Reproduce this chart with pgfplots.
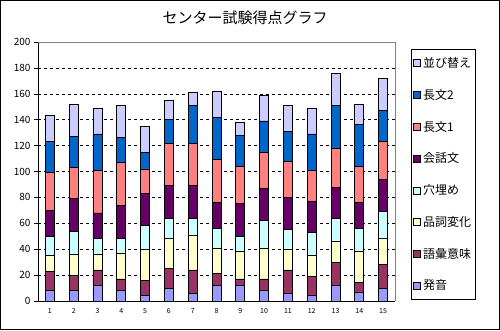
\documentclass[border=0pt]{standalone}
\usepackage{pgfplots}
\usepackage{pgfplotstable}
\pgfplotsset{compat=1.18}
\usepackage{fontspec}
\setmainfont{Noto Sans CJK JP}
\definecolor{hatsuon}{HTML}{9999FF}
\definecolor{goi}{HTML}{993366}
\definecolor{hinshi}{HTML}{FFFFCC}
\definecolor{anaume}{HTML}{CCFFFF}
\definecolor{kaiwa}{HTML}{660066}
\definecolor{chou1}{HTML}{FF8080}
\definecolor{chou2}{HTML}{0066CC}
\definecolor{narabi}{HTML}{CCCCFF}
\pgfplotstableread{
x  a  b  c  d  e  f  g  h
1  8  15 12 15 20 29 24 20
2  8  12 16 18 25 24 24 25
3  12 12 12 12 20 33 28 20
4  8  9  20 11 26 33 19 25
5  4  12 24 18 25 19 13 20
6  10 15 23 16 25 33 18 15
7  6  18 27 13 25 33 29 10
8  12 9  20 15 20 33 33 20
9  12 5  21 12 25 29 24 10
10 8  9  24 21 25 28 24 20
11 6  18 16 15 25 28 23 20
12 4  15 16 18 24 24 28 20
13 12 18 16 18 24 30 33 25
14 7  7  24 18 20 28 32 16
15 10 18 20 21 25 29 24 25
}\scores
\begin{document}
\begin{tikzpicture}
\begin{axis}[
  scale only axis, width=357pt, height=259pt,
  clip=false,
  ybar stacked, bar width=9pt,
  xmin=0.5, xmax=15.5, ymin=0, ymax=200,
  xtick={1,...,15}, ytick={0,20,...,200},
  axis x line=bottom, axis y line=left,
  axis line style={-, black, line width=0.8pt},
  tick align=outside, major tick length=4pt,
  xtick style={draw=none},
  ytick style={black, line width=0.6pt},
  ymajorgrids, grid style={black, dash pattern=on 3pt off 3pt, line width=0.6pt},
  /pgf/number format/assume math mode=true,
  yticklabel style={font=\fontsize{10}{10}\selectfont},
  xticklabel style={font=\fontsize{7}{7}\selectfont},
  legend style={at={(1.045,0.973)}, anchor=north west, draw=black, line width=0.8pt,
    font=\fontsize{12}{12}\selectfont, row sep=16.2pt, inner xsep=2pt, inner ysep=6pt,
    cells={anchor=west}},
  legend cell align=left,
  reverse legend,
  legend image code/.code={\draw[#1, draw=black, line width=0.6pt] (0pt,-3.5pt) rectangle (7pt,3.5pt);},
  every axis plot/.append style={draw=black, line width=0.8pt},
]
\addplot[fill=hatsuon] table[x=x,y=a] {\scores};
\addplot[fill=goi] table[x=x,y=b] {\scores};
\addplot[fill=hinshi] table[x=x,y=c] {\scores};
\addplot[fill=anaume] table[x=x,y=d] {\scores};
\addplot[fill=kaiwa] table[x=x,y=e] {\scores};
\addplot[fill=chou1] table[x=x,y=f] {\scores};
\addplot[fill=chou2] table[x=x,y=g] {\scores};
\addplot[fill=narabi] table[x=x,y=h] {\scores};
\legend{発音,語彙意味,品詞変化,穴埋め,会話文,長文1,長文2,並び替え}
\draw[gray, line width=0.8pt] (rel axis cs:0,1) -- (rel axis cs:1,1) -- (rel axis cs:1,0);
\coordinate (bl) at (rel axis cs:0,0);
\end{axis}
\path (bl) ++(-38pt,-29pt) coordinate (p0);
\path (p0) ++(500pt,330pt) coordinate (p1);
\path (p0) ++(245pt,312pt) coordinate (pt);
\pgfresetboundingbox
\useasboundingbox (p0) rectangle (p1);
\draw[line width=1.5pt] ([shift={(0.75pt,0.75pt)}]p0) rectangle ([shift={(-0.75pt,-0.75pt)}]p1);
\node[font=\fontsize{15}{15}\selectfont] at (pt) {センター試験得点グラフ};
\end{tikzpicture}
\end{document}
